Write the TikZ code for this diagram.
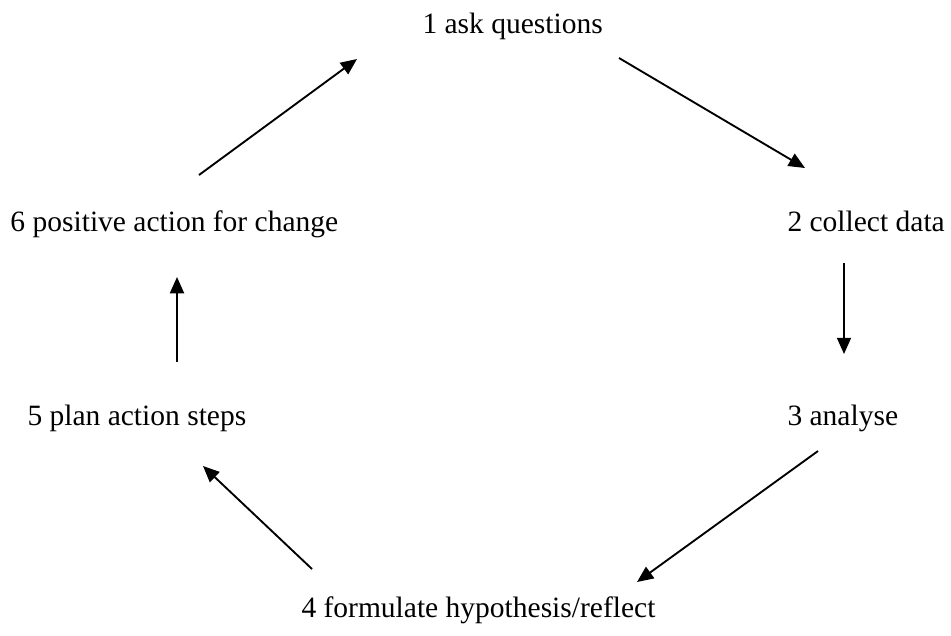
\documentclass[tikz,border=0pt]{standalone}
\usepackage{fontspec}
\setmainfont{Liberation Serif}
\usetikzlibrary{arrows.meta}
\begin{document}
\begin{tikzpicture}[x=0.4pt,y=-0.4pt,
  lbl/.style={anchor=base west,inner sep=0pt,font=\fontsize{11.8}{14}\selectfont},
  conn/.style={line width=0.75pt,-{Triangle[length=6.5pt,width=5.6pt]}}]
\useasboundingbox (0,0) rectangle (951,635);
\node[lbl] (n1) at (422,33) {1 ask questions};
\node[lbl] (n2) at (787,231) {2 collect data};
\node[lbl] (n3) at (787,425) {3 analyse};
\node[lbl] (n4) at (301,617) {4 formulate hypothesis/reflect};
\node[lbl] (n5) at (27,425) {5 plan action steps};
\node[lbl] (n6) at (10,231) {6 positive action for change};
\coordinate (a1s) at (199,175); \coordinate (a1e) at (357,59);
\coordinate (a2s) at (619,58);  \coordinate (a2e) at (805,168);
\coordinate (a3s) at (844,263); \coordinate (a3e) at (844,354);
\coordinate (a4s) at (818,451); \coordinate (a4e) at (637,582);
\coordinate (a5s) at (312,569); \coordinate (a5e) at (203,466);
\coordinate (a6s) at (177,362); \coordinate (a6e) at (177,277);
\draw[conn] (a1s) -- (a1e);
\draw[conn] (a2s) -- (a2e);
\draw[conn] (a3s) -- (a3e);
\draw[conn] (a4s) -- (a4e);
\draw[conn] (a5s) -- (a5e);
\draw[conn] (a6s) -- (a6e);
\end{tikzpicture}
\end{document}
